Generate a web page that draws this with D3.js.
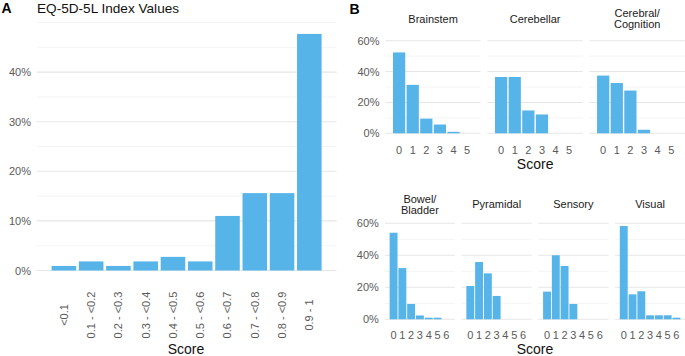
<!DOCTYPE html>
<html><head><meta charset="utf-8">
<script src="https://cdn.jsdelivr.net/npm/d3@7"></script>
<style>
html,body{margin:0;padding:0;background:#fff;}
svg{display:block;font-family:"Liberation Sans",Arial,Helvetica,sans-serif;}
</style></head>
<body><svg id="c" width="685" height="356"></svg>
<script>
// ---------- data ----------
const aCategories = ["<0.1","0.1 - <0.2","0.2 - <0.3","0.3 - <0.4","0.4 - <0.5","0.5 - <0.6","0.6 - <0.7","0.7 - <0.8","0.8 - <0.9","0.9 - 1"];
const aValues = [0.92, 1.83, 0.92, 1.83, 2.75, 1.83, 11.0, 15.6, 15.6, 47.7];
const aMajorTicks = [0, 10, 20, 30, 40];
const aMinorTicks = [5, 15, 25, 35, 45, 50];

const topScores = ["0","1","2","3","4","5"];
const bottomScores = ["0","1","2","3","4","5","6"];
const bMajorTicks = [0, 20, 40, 60];
const bMinorTicks = [10, 30, 50];

const topFacets = [["Brainstem"], ["Cerebellar"], ["Cerebral/","Cognition"]];
const brainstem  = [52.4, 31.4, 9.5, 5.7, 0.95, 0];
const cerebellar = [36.5, 36.5, 14.8, 12.2, 0, 0];
const cerebral   = [37.4, 32.6, 27.7, 2.3, 0, 0];

const bottomFacets = [["Bowel/","Bladder"], ["Pyramidal"], ["Sensory"], ["Visual"]];
const bowel     = [54.1, 32.0, 9.6, 2.4, 1.0, 1.0, 0];
const pyramidal = [20.8, 35.8, 28.7, 14.6, 0, 0, 0];
const sensory   = [17.3, 40.0, 33.3, 9.6, 0, 0, 0];
const visual    = [58.3, 15.6, 17.5, 2.5, 2.5, 2.5, 1.0];

// ---------- style ----------
const BAR = "#56B4E9";
const TICK = "#5a5a5a";
const MAJ = "#e6e6e6", MIN = "#f1f1f1";
const svg = d3.select("#c");
const fmt = d => d + "%";

// ---------- panel A ----------
{
  const x = d3.scaleBand().domain(aCategories).range([36.6, 336.6]).paddingInner(0.1).paddingOuter(0.55);
  const y = d3.scaleLinear().domain([0, 50]).range([270.5, 22.5]);
  const g = svg.append("g");
  g.selectAll("line.mn").data(aMinorTicks).join("line")
    .attr("x1", 36.6).attr("x2", 336.6).attr("y1", d => y(d)).attr("y2", d => y(d))
    .attr("stroke", MIN).attr("stroke-width", 0.8);
  g.selectAll("line.mj").data(aMajorTicks).join("line")
    .attr("x1", 36.6).attr("x2", 336.6).attr("y1", d => y(d)).attr("y2", d => y(d))
    .attr("stroke", MAJ).attr("stroke-width", 1.1);
  g.selectAll("rect").data(aValues).join("rect")
    .attr("x", (d, i) => x(aCategories[i])).attr("width", x.bandwidth())
    .attr("y", d => y(d)).attr("height", d => y(0) - y(d)).attr("fill", BAR);
  // y labels
  const ya = g.append("g").attr("transform", "translate(31,0)")
    .call(d3.axisLeft(y).tickValues(aMajorTicks).tickFormat(fmt).tickSize(0).tickPadding(0));
  ya.select(".domain").remove();
  ya.selectAll("text").attr("fill", TICK).attr("font-size", 11).style("font-family", "inherit");
  // x labels rotated
  const xa = g.append("g").attr("transform", "translate(0,315)")
    .call(d3.axisBottom(x).tickSize(0).tickPadding(0));
  xa.select(".domain").remove();
  xa.selectAll("text").attr("fill", TICK).attr("font-size", 11).style("font-family", "inherit")
    .attr("transform", "rotate(-90)").attr("x", 0).attr("y", 0).attr("dy", "0.35em")
    .attr("text-anchor", "middle");
  g.append("text").attr("x", 186).attr("y", 353.6).attr("text-anchor", "middle")
    .attr("font-size", 14).attr("fill", "#111").text("Score");
  g.append("text").attr("x", 37).attr("y", 12.8).attr("font-size", 13.6).attr("fill", "#111")
    .text("EQ-5D-5L Index Values");
  g.append("text").attr("x", 1.5).attr("y", 13.4).attr("font-size", 14).attr("font-weight", "bold")
    .attr("fill", "#000").text("A");
}

// ---------- panel B ----------
svg.append("text").attr("x", 349.5).attr("y", 14).attr("font-size", 14).attr("font-weight", "bold")
  .attr("fill", "#000").text("B");

function facetRow(opts) {
  const { names, series, scores, left, right, gap, y0, y60, tickY, stripY, titleY } = opts;
  const n = names.length;
  const w = (right - left - gap * (n - 1)) / n;
  const y = d3.scaleLinear().domain([0, 60]).range([y0, y60]);
  names.forEach((nm, k) => {
    const px = left + k * (w + gap);
    const x = d3.scaleBand().domain(scores).range([px, px + w]).paddingInner(0.1).paddingOuter(0.55);
    const g = svg.append("g");
    g.selectAll("line.mn").data(bMinorTicks).join("line")
      .attr("x1", px).attr("x2", px + w).attr("y1", d => y(d)).attr("y2", d => y(d))
      .attr("stroke", MIN).attr("stroke-width", 0.8);
    g.selectAll("line.mj").data(bMajorTicks).join("line")
      .attr("x1", px).attr("x2", px + w).attr("y1", d => y(d)).attr("y2", d => y(d))
      .attr("stroke", MAJ).attr("stroke-width", 1.1);
    g.selectAll("rect").data(series[k]).join("rect")
      .attr("x", (d, i) => x(scores[i])).attr("width", x.bandwidth())
      .attr("y", d => y(d)).attr("height", d => y(0) - y(d)).attr("fill", BAR);
    const xa = g.append("g").attr("transform", `translate(0,${tickY})`)
      .call(d3.axisBottom(x).tickSize(0).tickPadding(0));
    xa.select(".domain").remove();
    xa.selectAll("text").attr("fill", TICK).attr("font-size", 11).style("font-family", "inherit")
      .attr("y", 0).attr("dy", 0);
    // strip label
    const cx = px + w / 2;
    nm.forEach((ln, j) => {
      const by = nm.length === 1 ? stripY[0] : stripY[1] + j * 11.6;
      g.append("text").attr("x", cx).attr("y", by).attr("text-anchor", "middle")
        .attr("font-size", 11).attr("fill", "#1a1a1a").text(ln);
    });
  });
  const ya = svg.append("g").attr("transform", `translate(${left - 6},0)`)
    .call(d3.axisLeft(y).tickValues(bMajorTicks).tickFormat(fmt).tickSize(0).tickPadding(0));
  ya.select(".domain").remove();
  ya.selectAll("text").attr("fill", TICK).attr("font-size", 11).style("font-family", "inherit");
  svg.append("text").attr("x", (left + right) / 2).attr("y", titleY).attr("text-anchor", "middle")
    .attr("font-size", 14).attr("fill", "#111").text("Score");
}

facetRow({ names: topFacets, series: [brainstem, cerebellar, cerebral], scores: topScores,
  left: 385.5, right: 684.8, gap: 6.8, y0: 133.3, y60: 40.7, tickY: 154.2,
  stripY: [22.6, 16.6], titleY: 169.3 });
facetRow({ names: bottomFacets, series: [bowel, pyramidal, sensory, visual], scores: bottomScores,
  left: 384.8, right: 685.2, gap: 6.5, y0: 319.3, y60: 223.3, tickY: 339.4,
  stripY: [207.6, 202.6], titleY: 353.6 });
</script></body></html>
